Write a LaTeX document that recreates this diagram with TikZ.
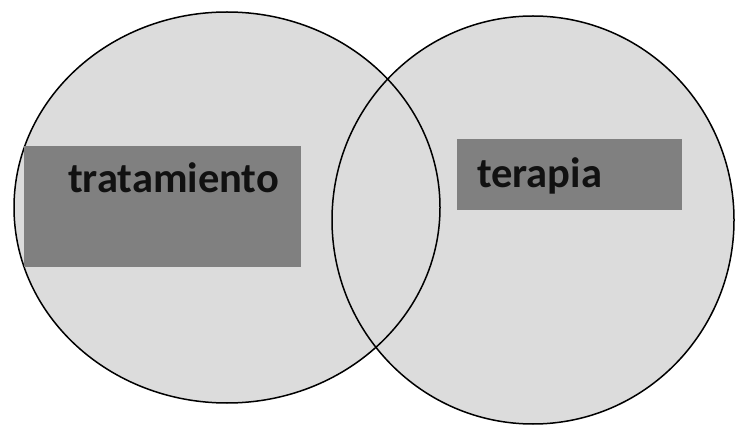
\documentclass[tikz,border=0pt]{standalone}
\usepackage{fontspec}
\setmainfont{Carlito}
\definecolor{circfill}{HTML}{DCDCDC}
\definecolor{boxfill}{HTML}{808080}
\definecolor{txt}{HTML}{111111}
\tikzset{
  circ/.style={fill=circfill},
  circline/.style={draw=black, line width=1.5pt},
  labelbox/.style={fill=boxfill, draw=none},
  labeltext/.style={font=\bfseries\fontsize{42.5}{42.5}\selectfont, text=txt, inner sep=0pt, anchor=base west}
}
\begin{document}
\begin{tikzpicture}[x=1pt,y=-1pt]
\useasboundingbox[fill=white] (0,0) rectangle (735,427);
\path[circ] (227,207.5) ellipse [x radius=213, y radius=195.5];
\path[circ] (533,220) ellipse [x radius=201, y radius=204];
\draw[circline] (227,207.5) ellipse [x radius=213, y radius=195.5];
\draw[circline] (533,220) ellipse [x radius=201, y radius=204];
\node[labelbox, minimum width=277, minimum height=121, inner sep=0pt, anchor=north west] (lbox) at (24,146) {};
\node[labelbox, minimum width=225, minimum height=71, inner sep=0pt, anchor=north west] (rbox) at (457,139) {};
\node[labeltext] (ltext) at (68,193) {tratamiento};
\node[labeltext] (rtext) at (477,188) {terapia};
\end{tikzpicture}
\end{document}
